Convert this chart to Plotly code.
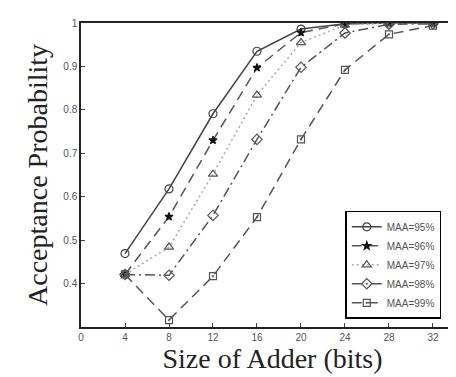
import plotly.graph_objects as go

bits = [4, 8, 12, 16, 20, 24, 28, 32]
maa95 = [0.469, 0.618, 0.791, 0.935, 0.986, 0.998, 1.0, 1.0]
maa96 = [0.421, 0.554, 0.730, 0.897, 0.978, 0.998, 1.0, 1.0]
maa97 = [0.421, 0.484, 0.652, 0.834, 0.955, 0.995, 1.0, 1.0]
maa98 = [0.421, 0.419, 0.557, 0.732, 0.898, 0.977, 0.997, 0.998]
maa99 = [0.421, 0.316, 0.417, 0.553, 0.732, 0.892, 0.974, 0.994]
labels = ["MAA=95%", "MAA=96%", "MAA=97%", "MAA=98%", "MAA=99%"]
x_ticks = [0, 4, 8, 12, 16, 20, 24, 28, 32]
y_ticks = [0.4, 0.5, 0.6, 0.7, 0.8, 0.9, 1.0]
y_ticklabels = ["0.4", "0.5", "0.6", "0.7", "0.8", "0.9", "1"]

series = [maa95, maa96, maa97, maa98, maa99]
dashes = ["solid", "10px,6px", "2px,3px", "10px,4px,2px,4px", "10px,6px"]
symbols = ["circle-open", "star", "triangle-up-open", "diamond-open", "square-open-dot"]
sizes = [8, 6, 8, 8, 7]
lcolors = ["#444444", "#555555", "#aaaaaa", "#555555", "#555555"]
mcolors = ["#444444", "#111111", "#555555", "#555555", "#555555"]

fig = go.Figure()
for ys, lab, d, s, sz, lc, mc in zip(series, labels, dashes, symbols, sizes, lcolors, mcolors):
    fig.add_trace(go.Scatter(
        x=bits, y=ys, name=lab, mode="lines+markers",
        line=dict(color=lc, width=1.5, dash=d),
        marker=dict(symbol=s, size=sz, color=mc, line=dict(color=mc, width=1.2)),
    ))

fig.update_layout(
    width=456, height=377,
    margin=dict(l=73, r=0, t=15, b=58),
    paper_bgcolor="white", plot_bgcolor="white",
    showlegend=True,
    legend=dict(
        x=0.69, y=0.027, xanchor="left", yanchor="bottom",
        bgcolor="white", bordercolor="black", borderwidth=1.5,
        font=dict(family="Arial", size=10, color="#555555"),
        tracegroupgap=0, itemwidth=30,
    ),
    xaxis=dict(
        range=[0, 34.82], tickvals=x_ticks, ticks="inside", ticklen=4,
        showline=True, linecolor="#222222", linewidth=1.5, mirror=True,
        showgrid=False, zeroline=False,
        tickfont=dict(family="Arial", size=10, color="#555555"),
        title=dict(text="Size of Adder (bits)", font=dict(family="Liberation Serif", size=28, color="#222222"), standoff=4),
    ),
    yaxis=dict(
        range=[0.3, 1.0], tickvals=y_ticks, ticktext=y_ticklabels, ticks="inside", ticklen=4,
        showline=True, linecolor="#222222", linewidth=1.5,
        showgrid=False, zeroline=False,
        tickfont=dict(family="Arial", size=10, color="#555555"),
        title=dict(text="Acceptance Probability", font=dict(family="Liberation Serif", size=28, color="#222222"), standoff=8),
    ),
)

fig.write_html("out.html")
